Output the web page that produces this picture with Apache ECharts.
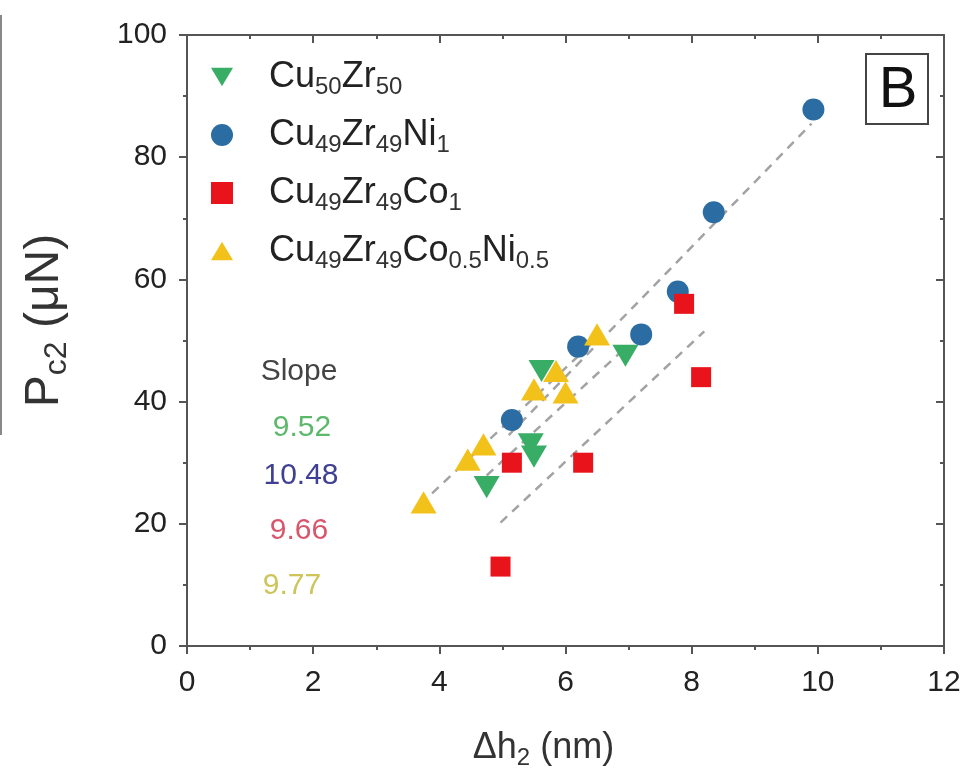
<!DOCTYPE html>
<html>
<head>
<meta charset="utf-8">
<script src="https://cdn.jsdelivr.net/npm/echarts@6/dist/echarts.min.js"></script>
<style>
html,body{margin:0;padding:0;background:#fff;}
#chart{width:973px;height:779px;}
</style>
</head>
<body>
<div id="chart"></div>
<script>
// ---- data ----
var seriesNames = ['Cu50Zr50', 'Cu49Zr49Ni1', 'Cu49Zr49Co1', 'Cu49Zr49Co0.5Ni0.5'];
var cuZr = [[4.75, 26], [5.45, 33], [5.5, 31], [5.62, 45], [6.95, 47.5]];
var cuZrNi = [[5.15, 37], [6.2, 49], [7.2, 51], [7.78, 58], [8.35, 71], [9.93, 87.8]];
var cuZrCo = [[4.97, 13], [5.15, 30], [6.28, 30], [7.88, 56], [8.15, 44]];
var cuZrCoNi = [[3.75, 23.5], [4.45, 30.5], [4.7, 33], [5.5, 42], [6.0, 41.5], [5.85, 45], [6.5, 51]];
// dashed fit lines (end points)
var fitCuZr = [[4.75, 27.9], [6.95, 48.8]];
var fitCuZrNi = [[5.1, 34.5], [9.9, 85.5]];
var fitCuZrCo = [[4.97, 20.2], [8.2, 51.5]];
var fitCuZrCoNi = [[3.7, 23.2], [6.6, 51.3]];
var slopeLabels = ['9.52', '10.48', '9.66', '9.77'];
var xTicks = {min: 0, max: 12, interval: 2};
var yTicks = {min: 0, max: 100, interval: 20};

var colors = ['#38ad66', '#2b6ca3', '#e8131b', '#f2c21b'];
var slopeColors = ['#5cb86a', '#3f3f93', '#d8566c', '#cdc45a'];
var FONT = '"Liberation Sans", Arial, sans-serif';
var legendRich = {
  'Cu50Zr50': '{n|Cu}{s|50}{n|Zr}{s|50}',
  'Cu49Zr49Ni1': '{n|Cu}{s|49}{n|Zr}{s|49}{n|Ni}{s|1}',
  'Cu49Zr49Co1': '{n|Cu}{s|49}{n|Zr}{s|49}{n|Co}{s|1}',
  'Cu49Zr49Co0.5Ni0.5': '{n|Cu}{s|49}{n|Zr}{s|49}{n|Co}{s|0.5}{n|Ni}{s|0.5}'
};
var downTri = 'path://M0,0L20,0L10,17Z';
var upTri = 'path://M10,0L20,17L0,17Z';

var chart = echarts.init(document.getElementById('chart'), null, {renderer: 'canvas'});

function axisCommon(extra) {
  var o = {
    type: 'value',
    axisLine: {show: true, onZero: false, lineStyle: {color: '#555', width: 2}},
    axisTick: {show: true, length: 8, lineStyle: {color: '#555', width: 2}},
    minorTick: {show: true, splitNumber: 2, length: 4, lineStyle: {color: '#555', width: 2}},
    splitLine: {show: false},
    axisLabel: {fontFamily: FONT, fontSize: 30, color: '#222'}
  };
  for (var k in extra) o[k] = extra[k];
  return o;
}

function fitSeries(data) {
  return {
    type: 'line', data: data, symbol: 'none', silent: true, z: 1,
    xAxisIndex: 0, yAxisIndex: 0,
    lineStyle: {type: [9, 7], color: '#a3a3a3', width: 2.5}
  };
}

var graphics = [
  {type: 'line', shape: {x1: 1, y1: 15, x2: 1, y2: 435}, style: {stroke: '#888', lineWidth: 2}},
  {type: 'rect', shape: {x: 866, y: 54, width: 62, height: 70}, style: {fill: '#fff', stroke: '#444', lineWidth: 2}},
  {type: 'text', x: 898, y: 91, style: {text: 'B', font: '58px ' + FONT, fill: '#111', align: 'center', verticalAlign: 'middle'}},
  {type: 'text', x: 299, y: 372, style: {text: 'Slope', font: '30px ' + FONT, fill: '#444', align: 'center', verticalAlign: 'middle'}}
];
var slopeY = [428, 476, 531, 586];
var slopeX = [302, 301, 299, 292];
for (var i = 0; i < slopeLabels.length; i++) {
  graphics.push({type: 'text', x: slopeX[i], y: slopeY[i],
    style: {text: slopeLabels[i], font: '30px ' + FONT, fill: slopeColors[i], align: 'center', verticalAlign: 'middle'}});
}

var option = {
  backgroundColor: '#fff',
  animation: false,
  grid: {left: 187, right: 29, top: 35, bottom: 133},
  legend: {
    orient: 'vertical', left: 211, top: 55, padding: 0,
    itemWidth: 22, itemHeight: 22, itemGap: 14,
    data: seriesNames,
    formatter: function (name) { return legendRich[name]; },
    textStyle: {
      padding: [0, 0, 0, 31],
      rich: {
        n: {fontFamily: FONT, fontSize: 36, lineHeight: 44, color: '#222'},
        s: {fontFamily: FONT, fontSize: 24, lineHeight: 24, color: '#333', padding: [20, 0, 0, 0]}
      }
    }
  },
  xAxis: [
    axisCommon({min: xTicks.min, max: xTicks.max, interval: xTicks.interval, position: 'bottom',
      name: '{n|Δh}{s|2}{n| (nm)}', nameLocation: 'middle', nameGap: 80,
      nameTextStyle: {padding: [0, 44, 0, 0], rich: {
        n: {fontFamily: FONT, fontSize: 36, color: '#333', lineHeight: 44},
        s: {fontFamily: FONT, fontSize: 24, color: '#333', lineHeight: 24, padding: [20, 0, 0, 0]}
      }},
      axisLabel: {fontFamily: FONT, fontSize: 30, color: '#222', margin: 22}}),
    axisCommon({min: xTicks.min, max: xTicks.max, interval: xTicks.interval, position: 'top',
      axisLabel: {show: false},
      axisTick: {show: true, inside: true, length: 8, lineStyle: {color: '#555', width: 2}},
      minorTick: {show: true, splitNumber: 2, length: 4, lineStyle: {color: '#555', width: 2}}})
  ],
  yAxis: [
    axisCommon({min: yTicks.min, max: yTicks.max, interval: yTicks.interval, position: 'left',
      name: '{n|P}{s|c2}{n| (μN)}', nameLocation: 'middle', nameGap: 114, nameRotate: 90,
      nameTextStyle: {padding: [0, 0, 0, 40], rich: {
        n: {fontFamily: FONT, fontSize: 48, color: '#333', lineHeight: 56},
        s: {fontFamily: FONT, fontSize: 32, color: '#333', lineHeight: 32, padding: [24, 0, 0, 0]}
      }},
      axisLabel: {fontFamily: FONT, fontSize: 30, color: '#222', margin: 20}}),
    axisCommon({min: yTicks.min, max: yTicks.max, interval: yTicks.interval, position: 'right',
      axisLabel: {show: false},
      axisTick: {show: true, inside: true, length: 8, lineStyle: {color: '#555', width: 2}},
      minorTick: {show: true, splitNumber: 2, length: 4, lineStyle: {color: '#555', width: 2}}})
  ],
  series: [
    fitSeries(fitCuZr), fitSeries(fitCuZrNi), fitSeries(fitCuZrCo), fitSeries(fitCuZrCoNi),
    {name: seriesNames[0], type: 'scatter', data: cuZr, symbol: downTri, symbolKeepAspect: true, symbolSize: 26, z: 5,
      itemStyle: {color: colors[0], opacity: 1}},
    {name: seriesNames[1], type: 'scatter', data: cuZrNi, symbol: 'circle', symbolSize: 22, z: 5,
      itemStyle: {color: colors[1], opacity: 1}},
    {name: seriesNames[2], type: 'scatter', data: cuZrCo, symbol: 'rect', symbolSize: 20, z: 5,
      itemStyle: {color: colors[2], opacity: 1}},
    {name: seriesNames[3], type: 'scatter', data: cuZrCoNi, symbol: upTri, symbolKeepAspect: true, symbolSize: 26, z: 5,
      itemStyle: {color: colors[3], opacity: 1}}
  ],
  graphic: graphics
};
chart.setOption(option);
</script>
</body>
</html>
